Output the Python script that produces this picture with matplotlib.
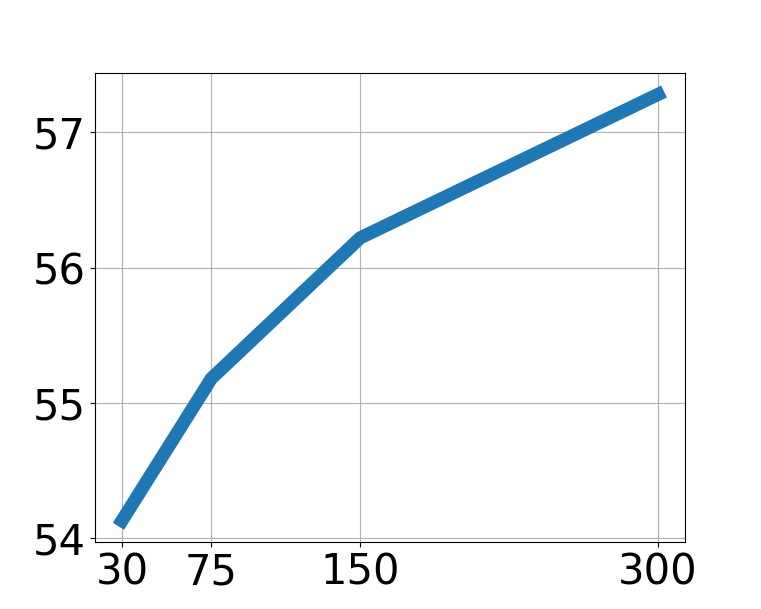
import matplotlib
matplotlib.use("Agg")
import matplotlib.pyplot as plt

# Values
steps = [30, 75, 150, 300]
scores = [54.13, 55.18, 56.22, 57.28]
y_ticks = [54, 55, 56, 57]

fig, ax = plt.subplots(figsize=(7.61, 6.09), dpi=100)

ax.plot(steps, scores, color="#1f77b4", linewidth=9.5)

ax.set_xticks(steps)
ax.set_yticks(y_ticks)
ax.tick_params(axis="both", labelsize=30)
ax.grid(True)

fig.savefig("out.png", dpi=100)
